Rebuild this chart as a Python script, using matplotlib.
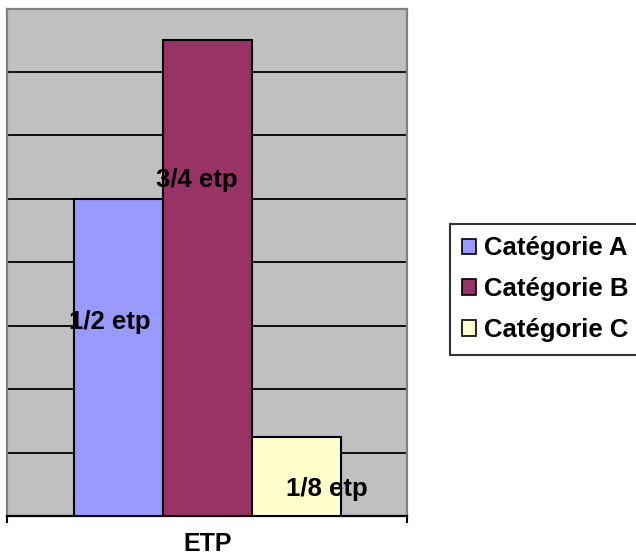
import numpy as np
import matplotlib
matplotlib.use("Agg")
import matplotlib.pyplot as plt
from matplotlib.patches import Patch

plt.rcParams['font.family'] = ['Liberation Sans', 'DejaVu Sans']

# Data
categories = ["Catégorie A", "Catégorie B", "Catégorie C"]
values = [0.5, 0.75, 0.125]
value_labels = ["1/2 etp", "3/4 etp", "1/8 etp"]
group_label = "ETP"
colors = ["#9999FF", "#993366", "#FFFFCC"]

# Layout of the value labels (data coordinates)
label_x = [-1.09, -0.11, 1.35]
label_y = [0.306, 0.53, 0.043]

W, H = 636, 556
fig = plt.figure(figsize=(W / 100, H / 100), dpi=100)
ax = fig.add_axes([7 / W, (H - 516) / H, 400 / W, (516 - 8.5) / H])
ax.set_facecolor("#C0C0C0")

x = np.arange(len(values)) - 1.0
ax.bar(x, values, width=1.0, color=colors, edgecolor="black", linewidth=1.5, zorder=3)

for lx, ly, txt in zip(label_x, label_y, value_labels):
    ax.text(lx, ly, txt, ha="center", va="center", fontsize=18.5,
            fontweight="bold", color="black", zorder=4)

half = 400 / 89 / 2
ax.set_xlim(-half, half)
ax.set_ylim(0, 0.8)
ax.set_yticks(np.arange(0.1, 0.75, 0.1))
ax.yaxis.grid(True, color="black", linewidth=1.3, zorder=1)
ax.tick_params(axis="y", length=0, labelleft=False)
ax.set_xticks([-half, half])
ax.tick_params(axis="x", length=5, width=1.5, direction="out", labelbottom=False, color="black")

for side in ["top", "left", "right"]:
    ax.spines[side].set_color("#808080")
    ax.spines[side].set_linewidth(1.6)
ax.spines["bottom"].set_color("black")
ax.spines["bottom"].set_linewidth(1.6)

fig.text(208 / W, 1 - 544 / H, group_label, ha="center", va="center",
         fontsize=18, fontweight="bold")

handles = [Patch(facecolor=c, edgecolor="black", linewidth=1.2) for c in colors]
leg = fig.legend(handles, categories, loc="upper left",
                 bbox_to_anchor=(450 / W, 1 - 224 / H), borderaxespad=0,
                 prop={"size": 18.5, "weight": "bold"}, handlelength=0.55,
                 handleheight=0.55, handletextpad=0.3, labelspacing=0.66,
                 borderpad=0.48, fancybox=False, frameon=True)
leg.get_frame().set_edgecolor("black")
leg.get_frame().set_linewidth(1.5)

fig.savefig("out.png", dpi=100)
